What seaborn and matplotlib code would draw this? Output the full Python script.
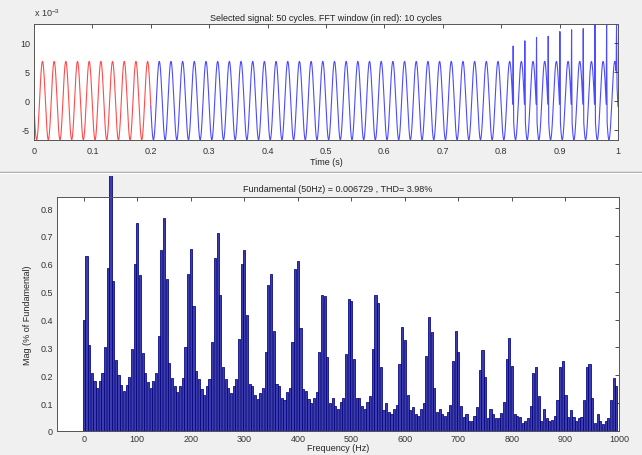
import numpy as np
import pandas as pd
import matplotlib
matplotlib.use("Agg")
import matplotlib.pyplot as plt
import seaborn as sns
from matplotlib.lines import Line2D
from matplotlib.transforms import Bbox, TransformedBbox

# ---- selected signal (amplitudes in units of 1e-3) ----
n_cycles = 50
fft_cycles = 10
f0 = 50                 # Hz
amp = 6.75              # fundamental peak, x1e-3
first_peak = 0.0145     # time of first crest (s)
# spikes that show up at the end of the record
spike_t = [0.8205, 0.8405, 0.8605, 0.8805, 0.9005, 0.9205, 0.9405, 0.9605, 0.9805, 0.9975]
spike_peak = [9.4, 10.3, 10.9, 11.1, 11.9, 12.2, 12.4, 13.05, 13.2, 13.2]

# ---- FFT magnitude, 5 Hz bins from 0 to 995 Hz ----
mag = [
    0.40, 0.63, 0.31, 0.21, 0.18, 0.155, 0.18, 0.21, 0.30, 0.585,
    1.00, 0.54, 0.255, 0.20, 0.165, 0.145, 0.165, 0.195, 0.295, 0.60,
    0.745, 0.56, 0.28, 0.21, 0.175, 0.155, 0.18, 0.21, 0.34, 0.65,
    0.765, 0.545, 0.245, 0.19, 0.16, 0.14, 0.16, 0.19, 0.30, 0.565,
    0.655, 0.45, 0.215, 0.185, 0.15, 0.13, 0.16, 0.185, 0.32, 0.62,
    0.71, 0.49, 0.23, 0.185, 0.155, 0.135, 0.16, 0.185, 0.33, 0.60,
    0.65, 0.415, 0.17, 0.16, 0.13, 0.115, 0.135, 0.155, 0.285, 0.525,
    0.565, 0.36, 0.17, 0.16, 0.12, 0.11, 0.14, 0.155, 0.32, 0.58,
    0.61, 0.37, 0.15, 0.145, 0.115, 0.10, 0.12, 0.14, 0.285, 0.49,
    0.485, 0.265, 0.10, 0.12, 0.09, 0.08, 0.105, 0.12, 0.275, 0.475,
    0.465, 0.26, 0.12, 0.12, 0.09, 0.08, 0.105, 0.125, 0.295, 0.49,
    0.46, 0.23, 0.075, 0.10, 0.07, 0.06, 0.08, 0.095, 0.24, 0.375,
    0.325, 0.13, 0.075, 0.085, 0.06, 0.055, 0.08, 0.10, 0.27, 0.41,
    0.355, 0.155, 0.07, 0.08, 0.06, 0.055, 0.07, 0.095, 0.25, 0.36,
    0.285, 0.09, 0.05, 0.06, 0.035, 0.035, 0.055, 0.085, 0.22, 0.29,
    0.195, 0.045, 0.08, 0.06, 0.045, 0.045, 0.065, 0.105, 0.26, 0.335,
    0.235, 0.06, 0.055, 0.05, 0.03, 0.035, 0.045, 0.09, 0.21, 0.23,
    0.125, 0.035, 0.08, 0.045, 0.035, 0.04, 0.055, 0.11, 0.23, 0.25,
    0.13, 0.05, 0.075, 0.05, 0.035, 0.045, 0.05, 0.11, 0.23, 0.24,
    0.12, 0.03, 0.06, 0.035, 0.025, 0.035, 0.045, 0.11, 0.19, 0.16,
]
freq = np.arange(len(mag)) * 5

sns.set_style("white")
plt.rcParams['font.family'] = ['Liberation Sans', 'DejaVu Sans']
plt.rcParams['mathtext.fontset'] = 'custom'
plt.rcParams['mathtext.rm'] = 'Liberation Sans'

W, H = 642, 456
fig = plt.figure(figsize=(W / 100, H / 100), dpi=100, facecolor='#f0f0f0')

def px_axes(l, t, r, b):
    return fig.add_axes([l / W, 1 - b / H, (r - l) / W, (b - t) / H])

ax1 = px_axes(34, 25, 618, 141)
ax2 = px_axes(57, 198, 619, 432)

# build the waveform
t = np.linspace(0, 1, 20001)
y = amp * np.cos(2 * np.pi * f0 * (t - first_peak))
for ts, pk in zip(spike_t, spike_peak):
    base = amp * np.cos(2 * np.pi * f0 * (ts - first_peak))
    tri = np.clip(1 - np.abs(t - ts) / 0.0007, 0, None)
    y = y + (pk - base) * tri
t_win = fft_cycles / f0
red = t <= t_win
blue = t >= t_win

sns.lineplot(x=t[blue], y=y[blue], ax=ax1, color='#0000ff', lw=0.8, alpha=0.7,
             estimator=None, sort=False)
sns.lineplot(x=t[red], y=y[red], ax=ax1, color='#ff0000', lw=0.8, alpha=0.7,
             estimator=None, sort=False)
ax1.set_xlim(0, 1)
ax1.set_ylim(-6.8, 13.2)
ax1.set_xticks(np.arange(0, 1.01, 0.1))
ax1.set_xticklabels(['0', '0.1', '0.2', '0.3', '0.4', '0.5', '0.6', '0.7', '0.8', '0.9', '1'])
ax1.set_yticks([-5, 0, 5, 10])
ax1.set_yticklabels(['-5', '0', '5', '10'])
ax1.set_xlabel('Time (s)', fontsize=6.5, labelpad=2)
ax1.set_title('Selected signal: %d cycles. FFT window (in red): %d cycles' % (n_cycles, fft_cycles),
              fontsize=6.5, pad=3, color='#222222')
fig.text(34 / W, 1 - 13 / H, r'x 10$^{-3}$', fontsize=6.5, color='#333333', va='center')

# spectrum bars
df = pd.DataFrame({'freq': freq, 'mag': mag})
sns.barplot(data=df, x='freq', y='mag', ax=ax2, native_scale=True, color='#3c3cac',
            edgecolor='#000080', linewidth=0.55, width=0.8, saturation=1, errorbar=None)
clip = TransformedBbox(Bbox([[0, 0], [1, 1 - 177 / H]]), fig.transFigure)
for p in ax2.patches:
    p.set_clip_box(clip)
ax2.set_xlim(-50, 1000)
ax2.set_ylim(0, 0.84)
ax2.set_xticks(np.arange(0, 1001, 100))
ax2.set_xticklabels([str(v) for v in range(0, 1001, 100)])
ax2.set_yticks(np.arange(0, 0.81, 0.1))
ax2.set_yticklabels(['0', '0.1', '0.2', '0.3', '0.4', '0.5', '0.6', '0.7', '0.8'])
ax2.set_xlabel('Frequency (Hz)', fontsize=6.5, labelpad=0)
ax2.set_ylabel('Mag (% of Fundamental)', fontsize=6.5, labelpad=6)
ax2.set_title('Fundamental (50Hz) = 0.006729 , THD= 3.98%', fontsize=6.5, pad=4, color='#222222')

for ax in (ax1, ax2):
    ax.set_facecolor('white')
    ax.tick_params(direction='in', length=3, width=0.6, labelsize=6.5, colors='#333333',
                   top=True, right=True, pad=3)
    for s in ax.spines.values():
        s.set_visible(True)
        s.set_color('#555555')
        s.set_linewidth(0.7)
ax1.tick_params(axis='x', pad=4)
ax2.tick_params(axis='x', pad=2.5)

# panel separator
fig.add_artist(Line2D([0, 1], [1 - 172.5 / H] * 2, transform=fig.transFigure,
                      color='#a0a0a0', lw=1))
fig.add_artist(Line2D([0, 1], [1 - 174 / H] * 2, transform=fig.transFigure,
                      color='#ffffff', lw=1))

fig.savefig('out.png', dpi=100, facecolor=fig.get_facecolor())
